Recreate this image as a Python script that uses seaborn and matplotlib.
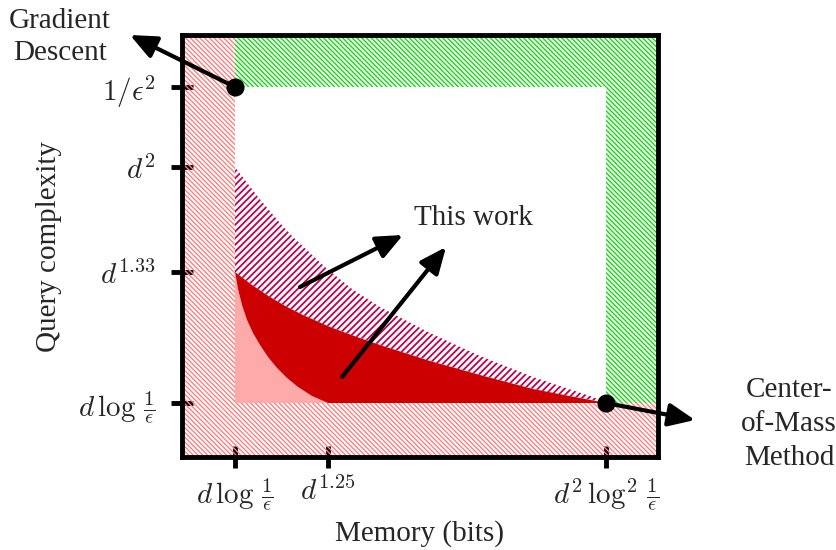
import numpy as np
import seaborn as sns
import matplotlib.pyplot as plt

# axis frame (arbitrary units, 0..476 wide, 0..422 tall)
x_max, y_max = 476, 422
x_ticks = [53, 146, 424]
x_labels = [r"$d\,\log\,\frac{1}{\epsilon}$", r"$d^{1.25}$",
            r"$d^2\,\log^2\,\frac{1}{\epsilon}$"]
y_ticks = [370, 290, 185, 54]
y_labels = [r"$1/\epsilon^2$", r"$d^2$", r"$d^{1.33}$", r"$d\,\log\,\frac{1}{\epsilon}$"]

# lower boundary of the dark red region (pink below it)
low_x = [53, 56, 60, 65, 71, 78, 86, 95, 105, 116, 130, 146]
low_y = [185, 168, 152, 137, 124, 112, 100, 89, 79, 70, 61, 54]
# upper boundary of the dark red region
mid_x = [53, 70, 88, 105, 121, 148, 175, 198, 248, 298, 351, 411, 424]
mid_y = [185, 172, 160, 150, 142, 130, 120, 112, 96, 82, 68, 56.5, 54]
# upper boundary of the hatched region
top_x = [53, 76, 98, 110, 143, 170, 198, 248, 298, 351, 411, 424]
top_y = [290, 260, 234, 221, 190, 168, 150, 124, 101, 80, 60, 54]

dot_x = [53, 424]
dot_y = [370, 54]


def main():
    sns.set_style("white")
    plt.rcParams['font.family'] = ['Liberation Serif', 'DejaVu Serif']
    plt.rcParams['mathtext.fontset'] = 'cm'

    fig = plt.figure(figsize=(8.37, 5.5), dpi=100)
    ax = fig.add_axes([182 / 837, 93 / 550, 476 / 837, 422 / 550])
    ax.set_xlim(0, x_max)
    ax.set_ylim(0, y_max)

    red = '#ff8080'
    green = '#11dd11'
    plt.rcParams['hatch.linewidth'] = 1.0
    hatch_rg = '\\' * 7
    ax.fill_between([0, x_ticks[0]], 0, y_max, facecolor='none', edgecolor=red,
                    hatch=hatch_rg, linewidth=0)
    ax.fill_between([x_ticks[0], x_max], 0, y_ticks[3], facecolor='none', edgecolor=red,
                    hatch=hatch_rg, linewidth=0)
    ax.fill_between([x_ticks[0], x_max], y_ticks[0], y_max, facecolor='none', edgecolor=green,
                    hatch=hatch_rg, linewidth=0)
    ax.fill_between([x_ticks[2], x_max], y_ticks[3], y_ticks[0], facecolor='none', edgecolor=green,
                    hatch=hatch_rg, linewidth=0)

    # pink region
    ax.fill(low_x + [x_ticks[0]], low_y + [y_ticks[3]], color='#ffaaaa', linewidth=0)
    # dark red region
    ax.fill(mid_x + [low_x[-1]] + low_x[::-1], mid_y + [y_ticks[3]] + low_y[::-1],
            color='#cc0000', linewidth=0)
    # hatched region
    plt.rcParams['hatch.linewidth'] = 1.3
    ax.fill(top_x + mid_x[::-1], top_y + mid_y[::-1], facecolor='none',
            edgecolor='#c0004c', hatch='/' * 5, linewidth=0)

    sns.scatterplot(x=dot_x, y=dot_y, s=170, color='k', ax=ax, zorder=6,
                    clip_on=False, legend=False, linewidth=0)

    arrow = dict(arrowstyle="-|>,head_length=0.8,head_width=0.35", lw=3, color='k',
                 mutation_scale=20, shrinkA=0, shrinkB=0)
    for start, tip in [((53, 370), (-52, 422)), ((424, 54), (513, 37)),
                       ((118, 170), (221, 222)), ((160, 80), (264, 210))]:
        ax.annotate("", xy=tip, xytext=start, arrowprops=arrow,
                    annotation_clip=False, zorder=7)

    ax.text(-122, 420, "Gradient\nDescent", fontsize=21, ha='center', va='center',
            linespacing=1.3, clip_on=False)
    ax.text(607, 33, "Center-\nof-Mass\nMethod", fontsize=21, ha='center', va='center',
            linespacing=1.4, clip_on=False)
    ax.text(291, 239, "This work", fontsize=21, ha='center', va='center')

    ax.set_xticks(x_ticks, labels=x_labels)
    ax.set_yticks(y_ticks, labels=y_labels)
    ax.tick_params(bottom=True, left=True, direction='inout', length=16, width=3.5,
                   labelsize=21, color='k')
    ax.tick_params(axis='x', pad=6)
    ax.tick_params(axis='y', pad=11)
    for s in ax.spines.values():
        s.set_linewidth(3.5)
        s.set_color('k')
        s.set_zorder(5)
    ax.set_xlabel("Memory (bits)", fontsize=21)
    ax.set_ylabel("Query complexity", fontsize=21)
    ax.xaxis.set_label_coords(0.5, -0.150)
    ax.yaxis.set_label_coords(-0.252, 0.5)

    plt.savefig('out.png', dpi=100)


if __name__ == "__main__":
    main()
